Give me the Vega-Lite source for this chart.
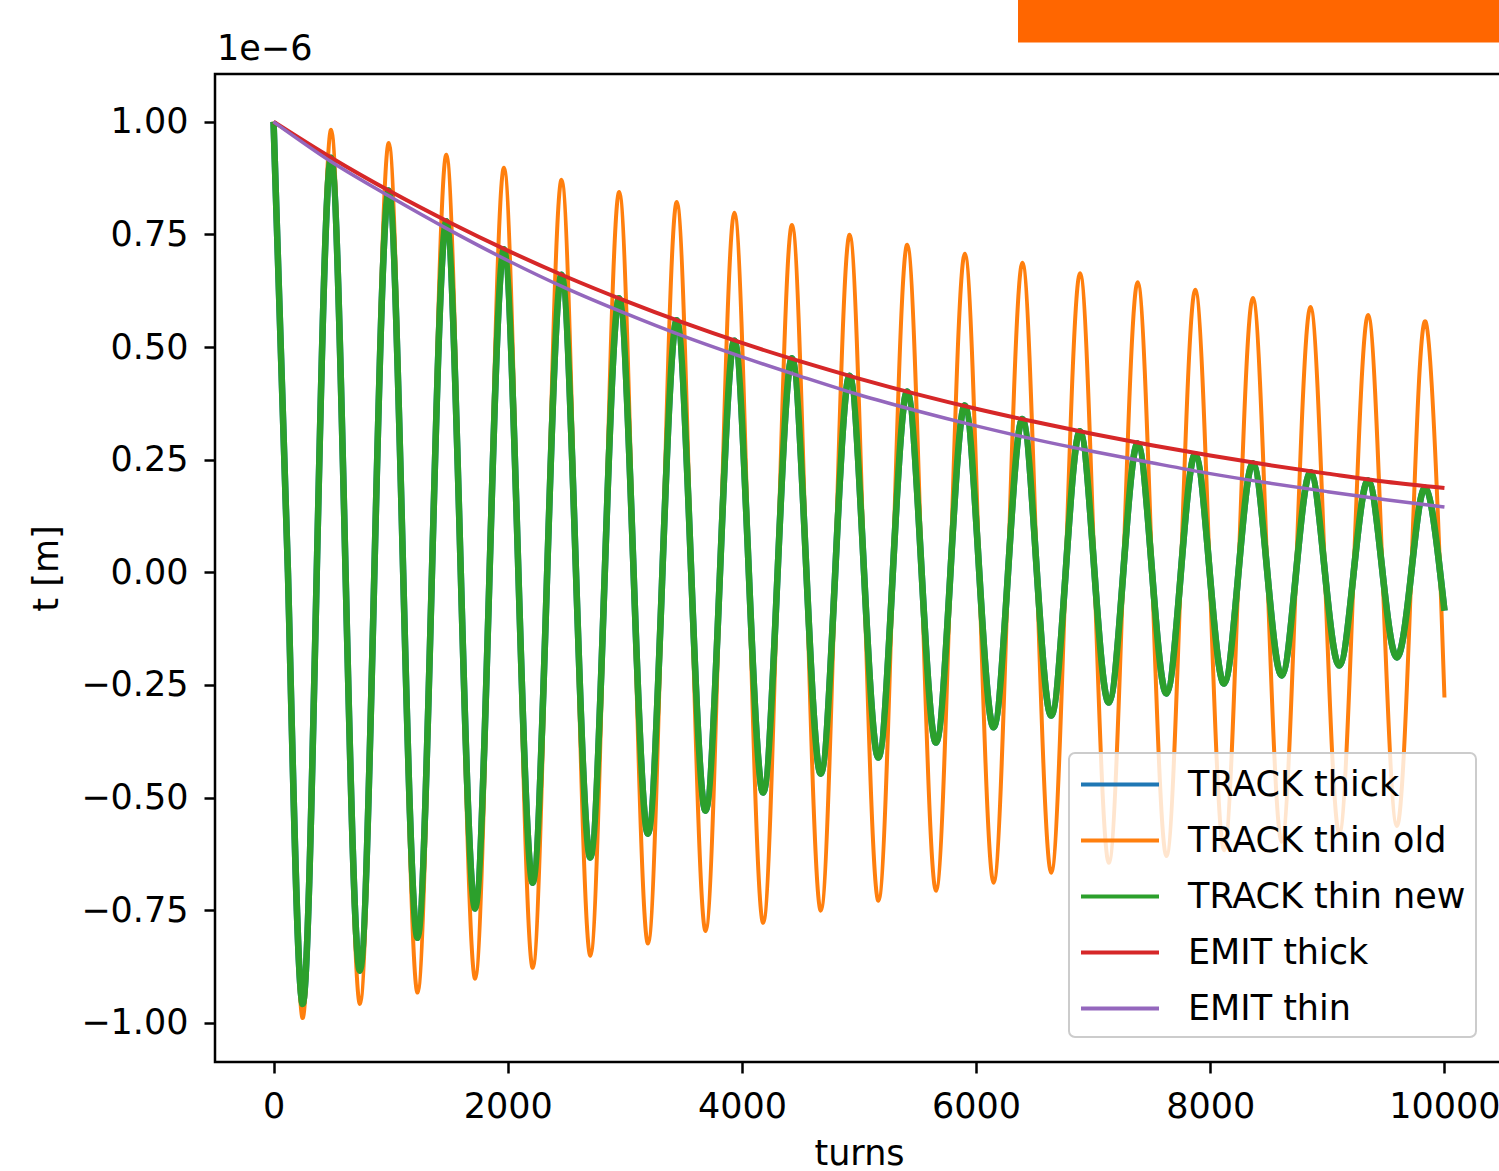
{
  "$schema": "https://vega.github.io/schema/vega-lite/v6.json",
  "autosize": {"type": "none"},
  "padding": {"left": 215, "top": 74, "right": 0, "bottom": 109},
  "width": 1288,
  "height": 988,
  "background": "white",
  "datasets": {
    "box": [{"x": 6358, "x2": 10700, "y": 1.272, "y2": 1.176}],
    "note": [{"label": "1e−6"}],
    "osc": [
      {"t": 0, "old": 1.0, "new": 1.0},
      {"t": 123, "old": 0, "new": 0},
      {"t": 246, "old": -0.989, "new": -0.958},
      {"t": 369, "old": 0, "new": 0},
      {"t": 492, "old": 0.982, "new": 0.92},
      {"t": 615, "old": 0, "new": 0},
      {"t": 738, "old": -0.958, "new": -0.884},
      {"t": 861, "old": 0, "new": 0},
      {"t": 984, "old": 0.953, "new": 0.847},
      {"t": 1107, "old": 0, "new": 0},
      {"t": 1230, "old": -0.933, "new": -0.811},
      {"t": 1353, "old": 0, "new": 0},
      {"t": 1476, "old": 0.927, "new": 0.779},
      {"t": 1599, "old": 0, "new": 0},
      {"t": 1722, "old": -0.902, "new": -0.746},
      {"t": 1845, "old": 0, "new": 0},
      {"t": 1968, "old": 0.898, "new": 0.717},
      {"t": 2091, "old": 0, "new": 0},
      {"t": 2214, "old": -0.878, "new": -0.689},
      {"t": 2337, "old": 0, "new": 0},
      {"t": 2460, "old": 0.871, "new": 0.66},
      {"t": 2583, "old": 0, "new": 0},
      {"t": 2706, "old": -0.851, "new": -0.633},
      {"t": 2829, "old": 0, "new": 0},
      {"t": 2952, "old": 0.844, "new": 0.608},
      {"t": 3075, "old": 0, "new": 0},
      {"t": 3198, "old": -0.824, "new": -0.58},
      {"t": 3321, "old": 0, "new": 0},
      {"t": 3444, "old": 0.822, "new": 0.559},
      {"t": 3567, "old": 0, "new": 0},
      {"t": 3690, "old": -0.796, "new": -0.529},
      {"t": 3813, "old": 0, "new": 0},
      {"t": 3936, "old": 0.798, "new": 0.514},
      {"t": 4059, "old": 0, "new": 0},
      {"t": 4182, "old": -0.778, "new": -0.489},
      {"t": 4305, "old": 0, "new": 0},
      {"t": 4428, "old": 0.771, "new": 0.475},
      {"t": 4551, "old": 0, "new": 0},
      {"t": 4674, "old": -0.751, "new": -0.447},
      {"t": 4797, "old": 0, "new": 0},
      {"t": 4920, "old": 0.749, "new": 0.436},
      {"t": 5043, "old": 0, "new": 0},
      {"t": 5166, "old": -0.729, "new": -0.411},
      {"t": 5289, "old": 0, "new": 0},
      {"t": 5412, "old": 0.727, "new": 0.401},
      {"t": 5535, "old": 0, "new": 0},
      {"t": 5658, "old": -0.707, "new": -0.378},
      {"t": 5781, "old": 0, "new": 0},
      {"t": 5904, "old": 0.707, "new": 0.37},
      {"t": 6027, "old": 0, "new": 0},
      {"t": 6150, "old": -0.689, "new": -0.344},
      {"t": 6273, "old": 0, "new": 0},
      {"t": 6396, "old": 0.687, "new": 0.34},
      {"t": 6519, "old": 0, "new": 0},
      {"t": 6642, "old": -0.667, "new": -0.318},
      {"t": 6765, "old": 0, "new": 0},
      {"t": 6888, "old": 0.664, "new": 0.313},
      {"t": 7011, "old": 0, "new": 0},
      {"t": 7134, "old": -0.645, "new": -0.289},
      {"t": 7257, "old": 0, "new": 0},
      {"t": 7380, "old": 0.644, "new": 0.286},
      {"t": 7503, "old": 0, "new": 0},
      {"t": 7626, "old": -0.63, "new": -0.269},
      {"t": 7749, "old": 0, "new": 0},
      {"t": 7872, "old": 0.627, "new": 0.262},
      {"t": 7995, "old": 0, "new": 0},
      {"t": 8118, "old": -0.617, "new": -0.247},
      {"t": 8241, "old": 0, "new": 0},
      {"t": 8364, "old": 0.609, "new": 0.242},
      {"t": 8487, "old": 0, "new": 0},
      {"t": 8610, "old": -0.598, "new": -0.229},
      {"t": 8733, "old": 0, "new": 0},
      {"t": 8856, "old": 0.589, "new": 0.222},
      {"t": 8979, "old": 0, "new": 0},
      {"t": 9102, "old": -0.58, "new": -0.207},
      {"t": 9225, "old": 0, "new": 0},
      {"t": 9348, "old": 0.571, "new": 0.204},
      {"t": 9471, "old": 0, "new": 0},
      {"t": 9594, "old": -0.563, "new": -0.189},
      {"t": 9717, "old": 0, "new": 0},
      {"t": 9840, "old": 0.556, "new": 0.187},
      {"t": 9963, "old": 0, "new": 0},
      {"t": 10000, "old": -0.278, "new": -0.085}
    ],
    "emit": [
      {"t": 0, "thick": 1.0, "thin": 1.0},
      {"t": 500, "thick": 0.919, "thin": 0.91},
      {"t": 1000, "thick": 0.845, "thin": 0.833},
      {"t": 1500, "thick": 0.777, "thin": 0.76},
      {"t": 2000, "thick": 0.714, "thin": 0.692},
      {"t": 2500, "thick": 0.656, "thin": 0.63},
      {"t": 3000, "thick": 0.603, "thin": 0.575},
      {"t": 3500, "thick": 0.554, "thin": 0.524},
      {"t": 4000, "thick": 0.509, "thin": 0.478},
      {"t": 4500, "thick": 0.468, "thin": 0.435},
      {"t": 5000, "thick": 0.43, "thin": 0.394},
      {"t": 5500, "thick": 0.395, "thin": 0.358},
      {"t": 6000, "thick": 0.363, "thin": 0.325},
      {"t": 6500, "thick": 0.334, "thin": 0.295},
      {"t": 7000, "thick": 0.307, "thin": 0.268},
      {"t": 7500, "thick": 0.282, "thin": 0.243},
      {"t": 8000, "thick": 0.259, "thin": 0.219},
      {"t": 8500, "thick": 0.238, "thin": 0.198},
      {"t": 9000, "thick": 0.219, "thin": 0.179},
      {"t": 9500, "thick": 0.201, "thin": 0.161},
      {"t": 10000, "thick": 0.187, "thin": 0.145}
    ]
  },
  "layer": [
    {
      "data": {"name": "osc"},
      "mark": {"type": "line", "interpolate": "natural", "strokeWidth": 6.5},
      "encoding": {
        "x": {"field": "t", "type": "quantitative", "title": "turns", "scale": {"domain": [-500, 10500], "nice": false, "zero": false}, "axis": {"values": [0, 2000, 4000, 6000, 8000, 10000], "format": "d"}},
        "y": {"field": "new", "type": "quantitative", "title": "t [m]", "scale": {"domain": [-1.087, 1.106], "nice": false, "zero": false}, "axis": {"values": [-1, -0.75, -0.5, -0.25, 0, 0.25, 0.5, 0.75, 1], "format": ".2f"}},
        "color": {"datum": "TRACK thick", "type": "nominal", "title": null,
          "scale": {"domain": ["TRACK thick", "TRACK thin old", "TRACK thin new", "EMIT thick", "EMIT thin"], "range": ["#1f77b4", "#ff7f0e", "#2ca02c", "#d62728", "#9467bd"]},
          "legend": {"orient": "none", "legendX": 854, "legendY": 679}}
      }
    },
    {
      "data": {"name": "osc"},
      "mark": {"type": "line", "interpolate": "natural", "strokeWidth": 4},
      "encoding": {
        "x": {"field": "t", "type": "quantitative", "title": "turns"},
        "y": {"field": "old", "type": "quantitative", "title": "t [m]"},
        "color": {"datum": "TRACK thin old", "type": "nominal", "title": null}
      }
    },
    {
      "data": {"name": "osc"},
      "mark": {"type": "line", "interpolate": "natural", "strokeWidth": 6.5},
      "encoding": {
        "x": {"field": "t", "type": "quantitative", "title": "turns"},
        "y": {"field": "new", "type": "quantitative", "title": "t [m]"},
        "color": {"datum": "TRACK thin new", "type": "nominal", "title": null}
      }
    },
    {
      "data": {"name": "emit"},
      "mark": {"type": "line", "interpolate": "monotone", "strokeWidth": 4},
      "encoding": {
        "x": {"field": "t", "type": "quantitative", "title": "turns"},
        "y": {"field": "thick", "type": "quantitative", "title": "t [m]"},
        "color": {"datum": "EMIT thick", "type": "nominal", "title": null}
      }
    },
    {
      "data": {"name": "emit"},
      "mark": {"type": "line", "interpolate": "monotone", "strokeWidth": 3.5},
      "encoding": {
        "x": {"field": "t", "type": "quantitative", "title": "turns"},
        "y": {"field": "thin", "type": "quantitative", "title": "t [m]"},
        "color": {"datum": "EMIT thin", "type": "nominal", "title": null}
      }
    },
    {
      "data": {"name": "box"},
      "mark": {"type": "rect", "color": "#ff6600"},
      "encoding": {
        "x": {"field": "x", "type": "quantitative", "title": "turns"},
        "x2": {"field": "x2"},
        "y": {"field": "y", "type": "quantitative", "title": "t [m]"},
        "y2": {"field": "y2"}
      }
    },
    {
      "data": {"name": "note"},
      "mark": {"type": "text", "align": "left", "baseline": "alphabetic", "fontSize": 35, "font": "DejaVu Sans", "color": "#000", "dx": 2},
      "encoding": {
        "x": {"datum": -500, "type": "quantitative"},
        "y": {"datum": 1.137, "type": "quantitative"},
        "text": {"field": "label", "type": "nominal"}
      }
    }
  ],
  "config": {
    "font": "DejaVu Sans",
    "view": {"stroke": "#000", "strokeWidth": 2.5},
    "axis": {"labelFontSize": 35, "titleFontSize": 35, "labelFont": "DejaVu Sans", "titleFont": "DejaVu Sans", "titleFontWeight": "normal", "labelColor": "#000", "titleColor": "#000", "tickColor": "#000", "tickWidth": 2.5, "tickSize": 11, "domain": false, "grid": false, "labelFlush": false, "labelOverlap": false},
    "axisX": {"labelPadding": 16, "titlePadding": 12},
    "axisY": {"labelPadding": 16, "titlePadding": 16},
    "legend": {"symbolType": "M-1,0H3", "symbolSize": 1521, "symbolStrokeWidth": 4, "labelFontSize": 35, "labelFont": "DejaVu Sans", "labelColor": "#000", "labelOffset": 66, "rowPadding": 16, "padding": 10, "fillColor": "rgba(255,255,255,0.8)", "strokeColor": "#cccccc", "strokeWidth": 2, "cornerRadius": 6, "labelLimit": 500}
  }
}
